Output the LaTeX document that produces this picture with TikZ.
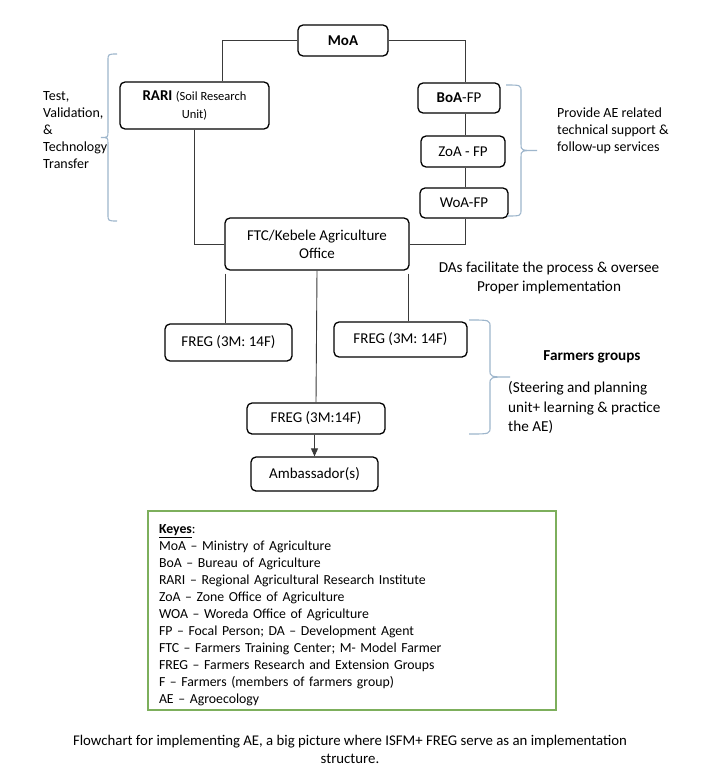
\documentclass[tikz,border=0pt]{standalone}
\usepackage{fontspec}
\setmainfont{Carlito}
\usetikzlibrary{arrows.meta}
\definecolor{bracecol}{HTML}{9EB6CC}
\definecolor{keygreen}{HTML}{7DAF5C}
\definecolor{linecol}{HTML}{3A3A3A}
\begin{document}
\begin{tikzpicture}[x=1pt,y=-1pt,
  box/.style={draw=black, line width=1.3pt, rounded corners=5pt, inner sep=0pt, align=center, font=\fontsize{15}{18}\selectfont},
  conn/.style={draw=linecol, line width=0.9pt},
  bracep/.style={draw=bracecol, line width=1.1pt},
  txt/.style={inner sep=0pt, font=\fontsize{14}{16.8}\selectfont}]
\useasboundingbox (0,0) rectangle (717,768);
\fill[white] (0,0) rectangle (717,768);
% boxes
\node[box, minimum width=90pt, minimum height=31pt] (moa) at (343,40.5) {\textbf{MoA}};
\node[box, minimum width=149pt, minimum height=47pt] (rari) at (194.5,105.5)
  {\textbf{\fontsize{15}{17}\selectfont RARI} {\fontsize{12.5}{17}\selectfont(Soil Research}\\{\fontsize{12.5}{17}\selectfont Unit)}};
\node[box, minimum width=82pt, minimum height=30pt] (boa) at (459,98) {\textbf{BoA}-FP};
\node[box, minimum width=84pt, minimum height=31pt] (zoa) at (463,151.5) {ZoA - FP};
\node[box, minimum width=88pt, minimum height=30pt] (woa) at (464,203) {WoA-FP};
\node[box, minimum width=184pt, minimum height=52pt] (ftc) at (317,244) {FTC/Kebele Agriculture\\Office};
\node[box, minimum width=127pt, minimum height=37pt] (freg1) at (228.5,342.5) {FREG (3M: 14F)};
\node[box, minimum width=133pt, minimum height=35pt] (freg2) at (400.5,339.5) {FREG (3M: 14F)};
\node[box, minimum width=138pt, minimum height=31pt] (freg3) at (316,418.5) {FREG (3M:14F)};
\node[box, minimum width=127pt, minimum height=34pt] (amb) at (314.5,474) {Ambassador(s)};
% helper columns
\coordinate (colL) at (222,0);
\coordinate (colR) at (465,0);
\coordinate (colA) at (194,0);
\coordinate (colF1) at (225,0);
\coordinate (colF2) at (408,0);
% connectors
\draw[conn] (moa.west) -| (rari.north -| colL);
\draw[conn] (moa.east) -| (boa.north -| colR);
\draw[conn] (boa.south -| colR) -- (zoa.north -| colR);
\draw[conn] (zoa.south -| colR) -- (woa.north -| colR);
\draw[conn] (woa.south -| colR) |- (ftc.east);
\draw[conn] (rari.south -| colA) |- (ftc.west);
\draw[conn] ([yshift=-3pt]ftc.south -| colF1) -- (freg1.north -| colF1);
\draw[conn] (ftc.south) -- (freg3.north);
\draw[conn] ([yshift=-3pt]ftc.south -| colF2) -- (freg2.north -| colF2);
\draw[conn, -{Triangle[width=7pt,length=8pt]}] (freg3.south -| amb.north) -- (amb.north);
% braces
\draw[bracep] (117,54) .. controls (108,54) .. (108,61) -- (108,131) .. controls (108,137.5) .. (101,137.5)
  .. controls (108,137.5) .. (108,144) -- (108,214) .. controls (108,221) .. (117,221);
\draw[bracep] (506,85) .. controls (521,85) .. (521,92) -- (521,144) .. controls (521,150.5) .. (537,150.5)
  .. controls (521,150.5) .. (521,157) -- (521,209) .. controls (521,216) .. (507,216);
\draw[bracep] (469,320) .. controls (490,320) .. (490,327) -- (490,370) .. controls (490,377) .. (510,377)
  .. controls (490,377) .. (490,384) -- (490,427) .. controls (490,434) .. (469,434);
% texts
\node[txt, anchor=west, align=left] (ttest) at (43,130) {Test,\\Validation,\\\&\\Technology\\Transfer};
\node[txt, anchor=west, align=left] (tprov) at (557,131) {Provide AE related\\technical support \&\\follow-up services};
\node[txt, align=center, font=\fontsize{15.2}{19}\selectfont] (tdas) at (549,277.5) {DAs facilitate the process \& oversee\\Proper implementation};
\node[txt, font=\fontsize{15.2}{18}\selectfont\bfseries] (tfarm) at (592,357) {Farmers groups};
\node[txt, anchor=west, align=left, font=\fontsize{15.2}{19.5}\selectfont] (tsteer) at (508,407.5) {(Steering and planning\\unit+ learning \& practice\\the AE)};
% key
\node[draw=keygreen, line width=1.5pt, minimum width=408pt, minimum height=199pt, inner sep=0pt] (keybox) at (352,610.5) {};
\node[inner sep=0pt, text width=386pt, align=left, font=\fontsize{13.8}{17}\selectfont] (key) at (352,615.5)
 {\underline{\textbf{Keyes}}:\\
 MoA – Ministry of Agriculture\\
 BoA – Bureau of Agriculture\\
 RARI – Regional Agricultural Research Institute\\
 ZoA – Zone Office of Agriculture\\
 WOA – Woreda Office of Agriculture\\
 FP – Focal Person; DA – Development Agent\\
 FTC – Farmers Training Center; M- Model Farmer\\
 FREG – Farmers Research and Extension Groups\\
 F – Farmers (members of farmers group)\\
 AE – Agroecology};
% caption
\node[txt, align=center, font=\fontsize{14.8}{17.5}\selectfont] (cap) at (350,749.5) {Flowchart for implementing AE, a big picture where ISFM+ FREG serve as an implementation\\structure.};
\end{tikzpicture}
\end{document}
